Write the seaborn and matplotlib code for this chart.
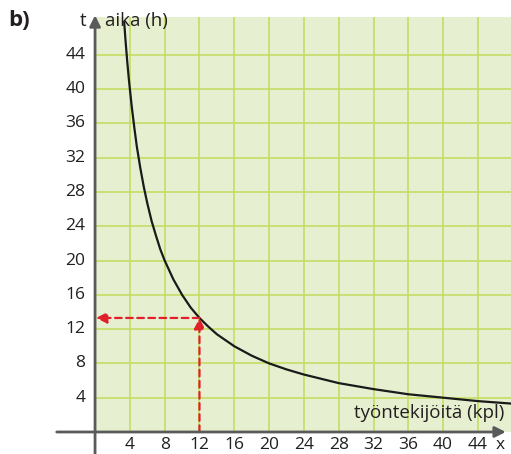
import seaborn as sns
import matplotlib.pyplot as plt
import pandas as pd

# values (workers -> hours)
workers = [3.35, 3.5, 3.7, 3.9, 4.2, 4.5, 4.8, 5.2, 5.6, 6, 6.5, 7, 7.5, 8, 9, 10, 11, 12,
           13, 14, 16, 18, 20, 22, 24, 28, 32, 36, 40, 44, 48]
hours = [47.8, 45.7, 43.2, 41.0, 38.1, 35.6, 33.3, 30.8, 28.6, 26.7, 24.6, 22.9, 21.3,
         20.0, 17.8, 16.0, 14.5, 13.3, 12.3, 11.4, 10.0, 8.9, 8.0, 7.3, 6.7, 5.7, 5.0,
         4.4, 4.0, 3.6, 3.3]
ticks = [4, 8, 12, 16, 20, 24, 28, 32, 36, 40, 44]
read_x = 12
read_y = 13.3

df = pd.DataFrame({'x': workers, 't': hours})

sns.set_style('white', {'axes.facecolor': '#e6f0d0'})
plt.rcParams['font.family'] = ['Open Sans', 'DejaVu Sans']

fig = plt.figure(figsize=(5.11, 4.54), dpi=100)
ax = fig.add_axes([0.186, 0.0485, 0.814, 0.914])

for v in ticks:
    ax.axvline(v, color='#c5dd66', lw=1.2, zorder=1)
    ax.axhline(v, color='#c5dd66', lw=1.2, zorder=1)

sns.lineplot(data=df, x='x', y='t', color='#1a1a1a', lw=1.6, ax=ax, zorder=3)

ax.set_xlim(0, 47.8)
ax.set_ylim(0, 48.4)
for s in ax.spines.values():
    s.set_visible(False)
ax.set_xticks([])
ax.set_yticks([])
ax.set_xlabel('')
ax.set_ylabel('')

# axes with arrows
axis_col = '#5a5a5a'
ax.annotate('', xy=(47.2, 0), xytext=(-4.4, 0), annotation_clip=False,
            arrowprops=dict(arrowstyle='-|>', color=axis_col, lw=2, mutation_scale=16,
                            shrinkA=0, shrinkB=0), zorder=5)
ax.annotate('', xy=(0, 48.6), xytext=(0, -2.7), annotation_clip=False,
            arrowprops=dict(arrowstyle='-|>', color=axis_col, lw=2, mutation_scale=16,
                            shrinkA=0, shrinkB=0), zorder=5)

# reading arrows
red = '#e0202a'
ax.annotate('', xy=(read_x, read_y), xytext=(read_x, 0),
            arrowprops=dict(arrowstyle='-|>', color=red, lw=1.6, ls=(0, (3, 2)),
                            mutation_scale=16, shrinkA=0, shrinkB=0), zorder=4)
ax.annotate('', xy=(0.1, read_y), xytext=(read_x, read_y),
            arrowprops=dict(arrowstyle='-|>', color=red, lw=1.6, ls=(0, (3, 2)),
                            mutation_scale=16, shrinkA=0, shrinkB=0), zorder=4)

txt = '#231f20'
for v in ticks:
    ax.text(v, -1.55, str(v), ha='center', va='center', fontsize=12.5, color=txt, clip_on=False)
    ax.text(-1.1, v, str(v), ha='right', va='center', fontsize=12.5, color=txt, clip_on=False)
ax.text(46.6, -1.55, 'x', ha='center', va='center', fontsize=12.5, color=txt, clip_on=False)
ax.text(-1.0, 47.9, 't', ha='right', va='center', fontsize=13.5, color=txt, clip_on=False)
ax.text(1.1, 47.9, 'aika (h)', ha='left', va='center', fontsize=13.5, color=txt, clip_on=False)
ax.text(47.0, 2.2, 'työntekijöitä (kpl)', ha='right', va='center', fontsize=13.5,
        color=txt, zorder=6)
fig.text(0.016, 0.955, 'b)', ha='left', va='center', fontsize=16, fontweight='bold', color=txt)

fig.savefig('out.png', dpi=100)
